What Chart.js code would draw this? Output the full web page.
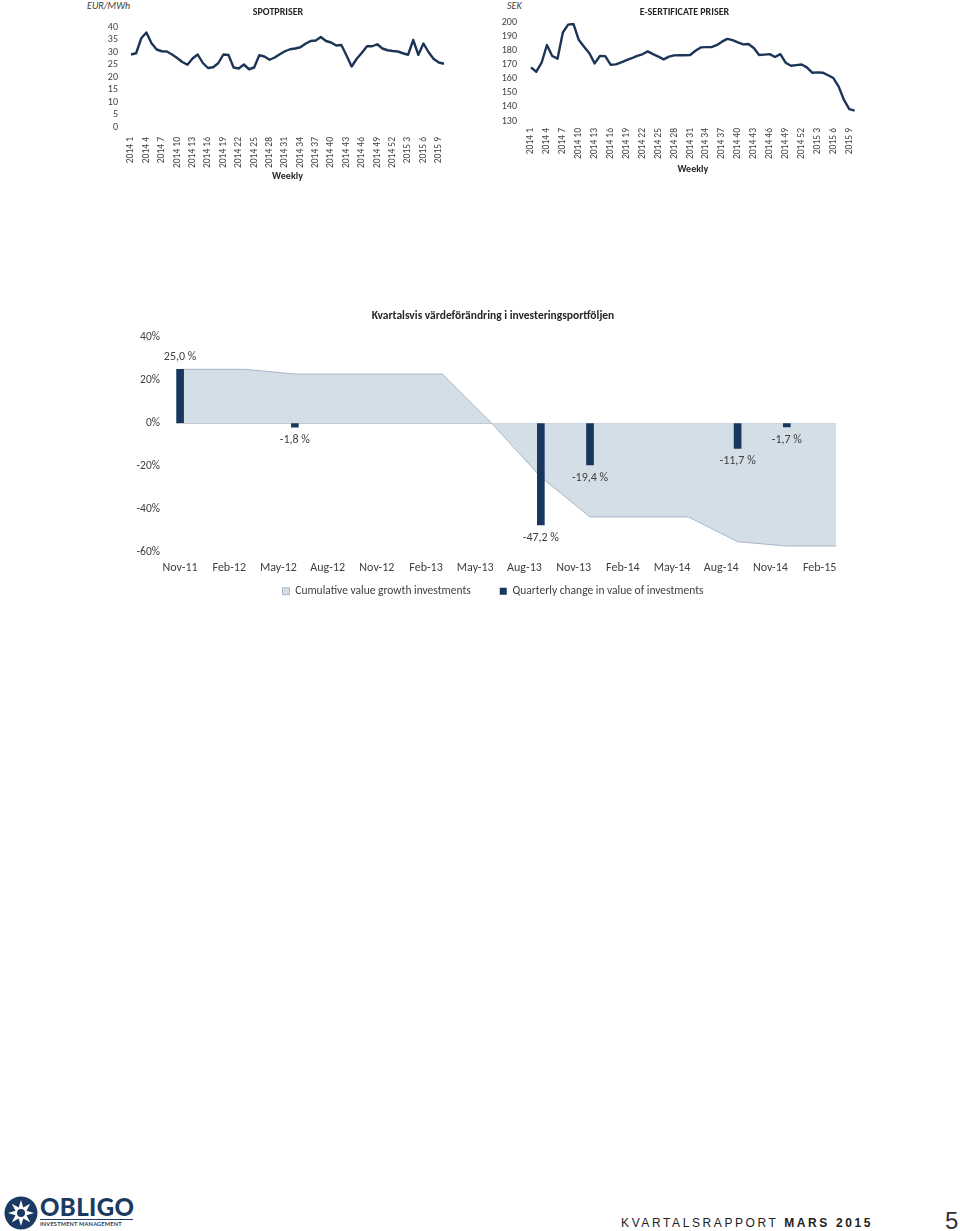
<!DOCTYPE html>
<html><head><meta charset="utf-8">
<script src="https://cdn.jsdelivr.net/npm/chart.js@4.4.1/dist/chart.umd.min.js"></script>
<style>
html,body{margin:0;padding:0;background:#fff;}
body{width:960px;height:1231px;position:relative;overflow:hidden;font-family:Carlito, Lato, sans-serif;}
canvas{position:absolute;}
.unit{position:absolute;font-style:italic;font-size:10px;color:#404040;line-height:12px;}
.footer-title{position:absolute;left:600px;top:1216px;width:273px;text-align:right;font-family:"Liberation Sans",Arial,sans-serif;font-size:12px;letter-spacing:2.6px;color:#222;white-space:nowrap;}
.page{position:absolute;left:945px;top:1207px;font-family:"Liberation Sans",Arial,sans-serif;font-size:24px;color:#333;}
.obligo{position:absolute;left:40px;top:1193px;font-family:Lato,sans-serif;font-weight:900;font-size:24px;color:#1b3a63;letter-spacing:0.4px;line-height:28px;}
.im{position:absolute;left:40px;top:1220px;font-family:Lato,sans-serif;font-size:5.6px;color:#1b3a63;letter-spacing:0.2px;font-weight:bold;}
.uline{position:absolute;left:40px;top:1219px;width:93px;height:1px;background:#1b3a63;}
</style></head><body>

<div class="unit" style="left:87px;top:0px;">EUR/MWh</div>
<div class="unit" style="left:507px;top:0px;">SEK</div>
<canvas id="c1" width="396" height="190" style="left:80px;top:0px;"></canvas>
<canvas id="c2" width="378" height="185" style="left:495px;top:0px;"></canvas>
<canvas id="c3" width="724" height="307" style="left:130px;top:300px;"></canvas>

<svg style="position:absolute;left:4px;top:1196px" width="34" height="34" viewBox="0 0 34 34">
  <circle cx="17" cy="17" r="16.5" fill="#1b3a63"/>
  <polygon fill="#fff" points="17,4 19.3,11.5 26.2,7.8 22.5,14.7 30,17 22.5,19.3 26.2,26.2 19.3,22.5 17,30 14.7,22.5 7.8,26.2 11.5,19.3 4,17 11.5,14.7 7.8,7.8 14.7,11.5"/>
  <circle cx="17" cy="17" r="4" fill="#1b3a63"/>
</svg>
<div class="obligo">OBLIGO</div>
<div class="uline"></div>
<div class="im">INVESTMENT MANAGEMENT</div>
<div class="footer-title">KVARTALSRAPPORT <b>MARS 2015</b></div>
<div class="page">5</div>

<script>
// ---------- data ----------
const weekLabels = [
 '2014 1','2014 2','2014 3','2014 4','2014 5','2014 6','2014 7','2014 8','2014 9','2014 10',
 '2014 11','2014 12','2014 13','2014 14','2014 15','2014 16','2014 17','2014 18','2014 19','2014 20',
 '2014 21','2014 22','2014 23','2014 24','2014 25','2014 26','2014 27','2014 28','2014 29','2014 30',
 '2014 31','2014 32','2014 33','2014 34','2014 35','2014 36','2014 37','2014 38','2014 39','2014 40',
 '2014 41','2014 42','2014 43','2014 44','2014 45','2014 46','2014 47','2014 48','2014 49','2014 50',
 '2014 51','2014 52','2015 1','2015 2','2015 3','2015 4','2015 5','2015 6','2015 7','2015 8',
 '2015 9','2015 10'];

const spotPrices = [
 29.0,29.5,35.5,37.8,33.5,31.0,30.3,30.2,29.0,27.6,
 26.0,24.9,27.4,29.0,25.6,23.6,23.9,25.5,29.0,28.8,
 23.8,23.4,25.0,23.1,23.8,28.7,28.2,26.9,27.8,29.1,
 30.3,31.1,31.4,31.9,33.3,34.4,34.6,36.0,34.4,33.8,
 32.6,32.8,28.6,24.2,27.3,29.7,32.3,32.3,33.1,31.4,
 30.7,30.4,30.2,29.5,28.9,34.8,28.9,33.4,29.9,27.2,
 25.8,25.3];

const certPrices = [
 168.2,165.1,171.5,184.1,176.3,174.4,193.0,198.6,199.1,187.8,
 182.9,178.2,171.0,176.3,176.2,170.1,170.3,171.8,173.3,174.7,
 176.4,177.5,179.6,177.6,175.9,173.9,175.8,176.7,176.8,176.8,
 177.0,180.0,182.4,182.6,182.6,184.0,186.5,188.5,187.6,186.0,
 184.6,184.8,182.0,177.0,177.3,177.6,175.6,177.6,171.5,169.3,
 169.8,170.2,168.2,164.4,164.6,164.4,162.6,160.6,154.5,145.0,
 138.5,137.4];

// quarterly chart: x in months since Nov-11
const quarterTickLabels = ['Nov-11','Feb-12','May-12','Aug-12','Nov-12','Feb-13','May-13','Aug-13','Nov-13','Feb-14','May-14','Aug-14','Nov-14','Feb-15'];
const quarterTickMonths = [0,3,6,9,12,15,18,21,24,27,30,33,36,39];
const changeMonths = [0,7,22,25,34,37];
const quarterChange = [25.0,-1.8,-47.2,-19.4,-11.7,-1.7];
const cumulativeMonths = [0,4,7,10,13,16,19,22,25,28,31,34,37,40];
const cumulativeGrowth = [25.0,25.0,22.8,22.8,22.8,22.8,0,-25.0,-43.5,-43.5,-43.5,-55.0,-57.0,-57.0];

// ---------- style ----------
const FONT = 'Carlito, Lato, sans-serif';
const TXT = '#404040';
const LINE = '#1c3557';
const BAR = '#17375e';
const AREA = '#d4dee7';
const AREA_BORDER = '#aab7c4';
Chart.defaults.font.family = FONT;
Chart.defaults.color = TXT;

// let tick labels extend beyond their (tightly sized) scale boxes
const noLabelClip = s => { s._computeLabelArea = () => undefined; };

function weeklyChart(id, data, title, yMin, yMax, yStep, cfg) {
  return new Chart(document.getElementById(id), {
    type: 'line',
    data: { labels: weekLabels, datasets: [{ data: data, borderColor: LINE, borderWidth: 2.4, pointRadius: 0, tension: 0, fill: false, borderJoinStyle: 'round' }] },
    options: {
      responsive: false, animation: false,
      layout: { padding: { left: cfg.padLeft, right: cfg.padRight, top: 0, bottom: 0 } },
      plugins: {
        legend: { display: false }, tooltip: { enabled: false },
        title: { display: true, text: title, color: '#262626', font: { family: FONT, size: 10, weight: 'bold', lineHeight: 1.2 }, padding: { top: cfg.titleTop, bottom: cfg.titleBottom } }
      },
      scales: {
        x: {
          grid: { display: false, drawTicks: false }, border: { display: false },
          ticks: { autoSkip: false, maxRotation: 90, minRotation: 90, padding: cfg.xPad, font: { size: 9.5 }, color: TXT,
                   callback: (v, i) => (i % 3 === 0 ? weekLabels[i] : '') },
          title: { display: true, text: 'Weekly', color: '#262626', font: { size: 10, weight: 'bold' }, padding: { top: 0, bottom: cfg.weeklyBottom } },
          afterFit: s => { s.height = cfg.xHeight; noLabelClip(s); }
        },
        y: {
          min: yMin, max: yMax,
          grid: { display: false, drawTicks: false }, border: { display: false },
          ticks: { stepSize: yStep, autoSkip: false, padding: cfg.yPad, font: { size: 10 }, color: TXT },
          afterFit: s => { s.width = cfg.yWidth; noLabelClip(s); }
        }
      }
    }
  });
}

weeklyChart('c1', spotPrices, 'SPOTPRISER', 0, 40, 5,
  { padLeft: 32, padRight: 32, titleTop: 6, titleBottom: 9, xPad: 10, xHeight: 63, weeklyBottom: 8, yPad: 13, yWidth: 19 });
weeklyChart('c2', certPrices, 'E-SERTIFICATE PRISER', 130, 200, 10,
  { padLeft: 15, padRight: 14, titleTop: 6, titleBottom: 4.7, xPad: 7, xHeight: 64, weeklyBottom: 10, yPad: 14, yWidth: 21 });

// ---------- quarterly chart ----------
const barLabels = {
  id: 'barLabels',
  afterDatasetsDraw(chart) {
    const meta = chart.getDatasetMeta(1);
    const ctx = chart.ctx;
    ctx.save();
    ctx.font = '12px ' + FONT;
    ctx.fillStyle = TXT;
    ctx.textAlign = 'center';
    ctx.textBaseline = 'middle';
    meta.data.forEach((el, i) => {
      const v = quarterChange[i];
      const txt = v.toFixed(1).replace('.', ',') + ' %';
      ctx.fillText(txt, el.x, v >= 0 ? el.y - 12 : el.y + 13);
    });
    ctx.restore();
  }
};

new Chart(document.getElementById('c3'), {
  type: 'bar',
  data: {
    datasets: [
      { type: 'line', label: 'Cumulative value growth investments',
        data: cumulativeMonths.map((m, i) => ({ x: m, y: cumulativeGrowth[i] })),
        fill: 'origin', backgroundColor: AREA, borderColor: AREA_BORDER, borderWidth: 1,
        pointRadius: 0, tension: 0, order: 2 },
      { type: 'bar', label: 'Quarterly change in value of investments',
        data: changeMonths.map((m, i) => ({ x: m, y: quarterChange[i] })),
        backgroundColor: BAR, borderWidth: 0, barThickness: 7, order: 1 }
    ]
  },
  options: {
    responsive: false, animation: false,
    layout: { padding: { left: 20, right: 18, top: 0, bottom: 0 } },
    plugins: {
      tooltip: { enabled: false },
      title: { display: true, text: 'Kvartalsvis värdeförändring i investeringsportföljen', color: '#262626',
               font: { size: 11.5, weight: 'bold', lineHeight: 1.2 }, padding: { top: 9.6, bottom: 13.6 } },
      legend: { position: 'bottom',
        labels: { boxWidth: 7, boxHeight: 7, padding: 29, color: TXT, font: { size: 11.5 },
                  sort: (a, b) => a.datasetIndex - b.datasetIndex } }
    },
    scales: {
      x: { type: 'linear', min: -0.25, max: 40, offset: false,
        grid: { display: false, drawTicks: false, offset: false }, border: { display: false },
        afterBuildTicks: s => { s.ticks = quarterTickMonths.map(v => ({ value: v })); },
        ticks: { autoSkip: false, maxRotation: 0, padding: 8, font: { size: 12 }, color: TXT,
                 callback: v => quarterTickLabels[quarterTickMonths.indexOf(v)] },
        afterFit: s => { s.height = 4; noLabelClip(s); }
      },
      y: { min: -60, max: 40,
        grid: { drawTicks: false, lineWidth: 1, color: c => (c.tick && c.tick.value === 0 ? '#c4c4c4' : 'rgba(0,0,0,0)') },
        border: { display: false },
        ticks: { stepSize: 20, autoSkip: false, padding: 16, font: { size: 11.5 }, color: TXT, callback: v => v + '%' },
        afterFit: s => { s.width = 26; noLabelClip(s); }
      }
    }
  },
  plugins: [barLabels]
});
</script>
</body></html>
